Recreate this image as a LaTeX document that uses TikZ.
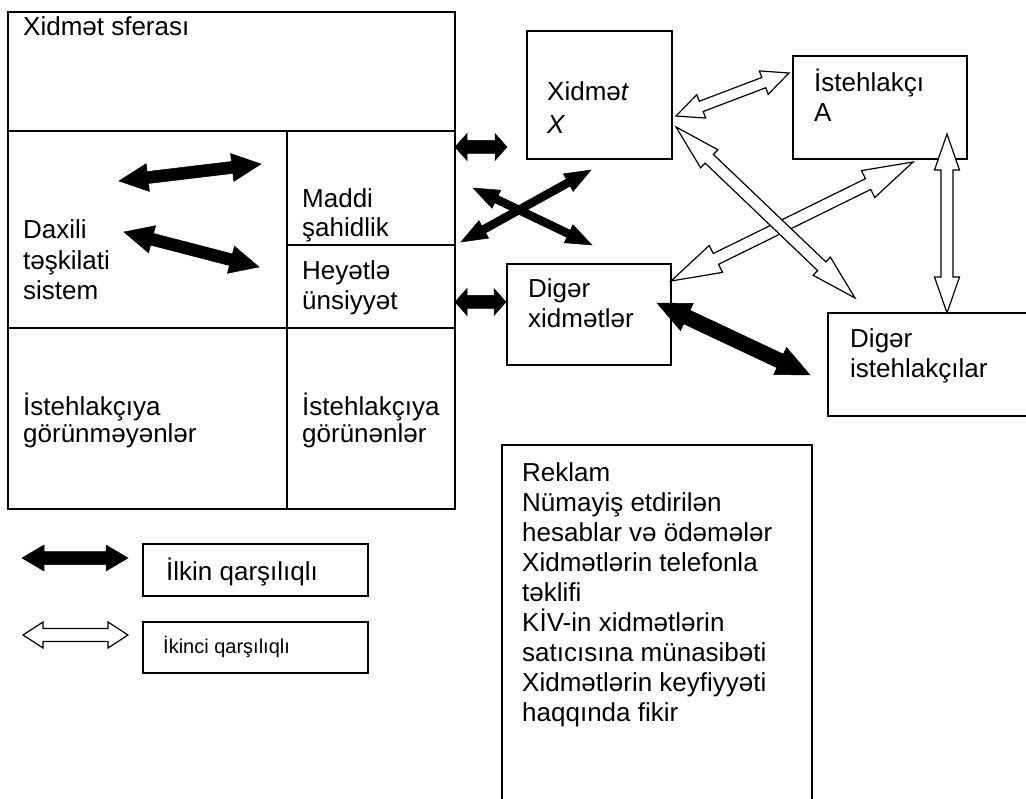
\documentclass[tikz,border=0pt]{standalone}
\usepackage{fontspec}
\setmainfont{Liberation Sans}
\usetikzlibrary{calc}

% double-headed block arrow: style, from, to, shaft half-width, head half-width, head length
\newcommand\dblarrow[6]{%
  \path[#1] (#2)
    -- ($(#2)!#6!(#3)!#5!90:(#3)$)
    -- ($(#2)!#6!(#3)!#4!90:(#3)$)
    -- ($(#3)!#6!(#2)!#4!-90:(#2)$)
    -- ($(#3)!#6!(#2)!#5!-90:(#2)$)
    -- (#3)
    -- ($(#3)!#6!(#2)!#5!90:(#2)$)
    -- ($(#3)!#6!(#2)!#4!90:(#2)$)
    -- ($(#2)!#6!(#3)!#4!-90:(#3)$)
    -- ($(#2)!#6!(#3)!#5!-90:(#3)$)
    -- cycle;}

\tikzset{
  blackarrow/.style={fill=black, draw=black, line width=0.5pt, line join=miter},
  whitearrow/.style={fill=white, draw=black, line width=1.2pt, line join=miter},
  framebox/.style={draw=black, line width=2.2pt},
  plainbox/.style={draw=black, line width=1.6pt},
  % multi-line labels sit on the baseline of their last line
  txt/.style={anchor=base west, align=left, inner sep=0pt,
    font=\fontsize{26}{30}\selectfont},
}

\begin{document}
\begin{tikzpicture}[x=1pt, y=-1pt]
\useasboundingbox (0,0) rectangle (1026,799);

% service sphere frame and its cells
\draw[framebox] (8,12) rectangle (455,509);
\draw[framebox] (8,131) -- (455,131);
\draw[framebox] (287,131) -- (287,509);
\draw[framebox] (8,328) -- (455,328);
\draw[framebox] (287,245) -- (455,245);

\node[txt] (sfera) at (23,36) {Xidmət sferası};
\node[txt, font=\fontsize{26}{30.5}\selectfont] (daxili) at (23,300) {Daxili\\təşkilati\\sistem};
\node[txt, font=\fontsize{26}{29}\selectfont] (maddi) at (302,237) {Maddi\\şahidlik};
\node[txt] (heyet) at (302,310) {Heyətlə\\ünsiyyət};
\node[txt, font=\fontsize{26}{28}\selectfont] (gizli) at (23,443) {İstehlakçıya\\görünməyənlər};
\node[txt, font=\fontsize{26}{28}\selectfont] (gorunen) at (302,443) {İstehlakçıya\\görünənlər};

% services and customers
\draw[plainbox] (527,31) rectangle (672,159);
\node[txt, font=\fontsize{26}{33}\selectfont] (xidmet) at (547,134) {Xidmə\textit{t}\\\textit{X}};

\draw[plainbox] (793,56) rectangle (967,159);
\node[txt] (istA) at (814,122) {İstehlakçı\\A};

\draw[plainbox] (507,264) rectangle (671,365);
\node[txt] (digX) at (528,328) {Digər\\xidmətlər};

\draw[plainbox] (1030,313) -- (828,313) -- (828,416) -- (1030,416);
\node[txt] (digI) at (850,378) {Digər\\istehlakçılar};

\draw[plainbox] (502,805) -- (502,445) -- (812,445) -- (812,805);
\node[txt] (reklam) at (522,721) {Reklam\\Nümayiş etdirilən\\hesablar və ödəmələr\\Xidmətlərin telefonla\\təklifi\\KİV-in xidmətlərin\\satıcısına münasibəti\\Xidmətlərin keyfiyyəti\\haqqında fikir};

% legend
\draw[plainbox] (143,544) rectangle (368,596);
\node[txt] (ilkin) at (166,580) {İlkin qarşılıqlı};
\draw[plainbox] (143,622) rectangle (368,673);
\node[txt, font=\fontsize{20}{24}\selectfont] (ikinci) at (163,653) {İkinci qarşılıqlı};

% arrow end points
\coordinate (a1s) at (119,181); \coordinate (a1e) at (261,164);
\coordinate (a2s) at (124,232); \coordinate (a2e) at (259,267);
\coordinate (a3s) at (455,147); \coordinate (a3e) at (507,147);
\coordinate (a4s) at (455,302); \coordinate (a4e) at (506,302);
\coordinate (a5s) at (461,242); \coordinate (a5e) at (591,170);
\coordinate (a6s) at (473,188); \coordinate (a6e) at (592,245);
\coordinate (a7s) at (657,303); \coordinate (a7e) at (810,375);
\coordinate (l1s) at (22,558);  \coordinate (l1e) at (128,558);
\coordinate (w1s) at (676,116); \coordinate (w1e) at (789,73);
\coordinate (w2s) at (676,127); \coordinate (w2e) at (855,298);
\coordinate (w3s) at (671,281); \coordinate (w3e) at (913,162);
\coordinate (w4s) at (947,134); \coordinate (w4e) at (947,313);
\coordinate (l2s) at (23,635);  \coordinate (l2e) at (128,635);

% primary interactions
\dblarrow{blackarrow}{a1s}{a1e}{6pt}{14pt}{29pt}
\dblarrow{blackarrow}{a2s}{a2e}{6pt}{14pt}{29pt}
\dblarrow{blackarrow}{a3s}{a3e}{6.5pt}{13.5pt}{12pt}
\dblarrow{blackarrow}{a4s}{a4e}{6.5pt}{13.5pt}{12pt}
\dblarrow{blackarrow}{a5s}{a5e}{4pt}{10pt}{26pt}
\dblarrow{blackarrow}{a6s}{a6e}{4pt}{10pt}{26pt}
\dblarrow{blackarrow}{a7s}{a7e}{7.5pt}{15pt}{33pt}
\dblarrow{blackarrow}{l1s}{l1e}{6.5pt}{13pt}{22pt}

% secondary interactions
\dblarrow{whitearrow}{w1s}{w1e}{5.5pt}{12.5pt}{27pt}
\dblarrow{whitearrow}{w3s}{w3e}{6pt}{15pt}{50pt}
\dblarrow{whitearrow}{w2s}{w2e}{6pt}{12.5pt}{46pt}
\dblarrow{whitearrow}{w4s}{w4e}{6pt}{12.5pt}{36pt}
\dblarrow{whitearrow}{l2s}{l2e}{6.5pt}{13pt}{20pt}
\end{tikzpicture}
\end{document}
